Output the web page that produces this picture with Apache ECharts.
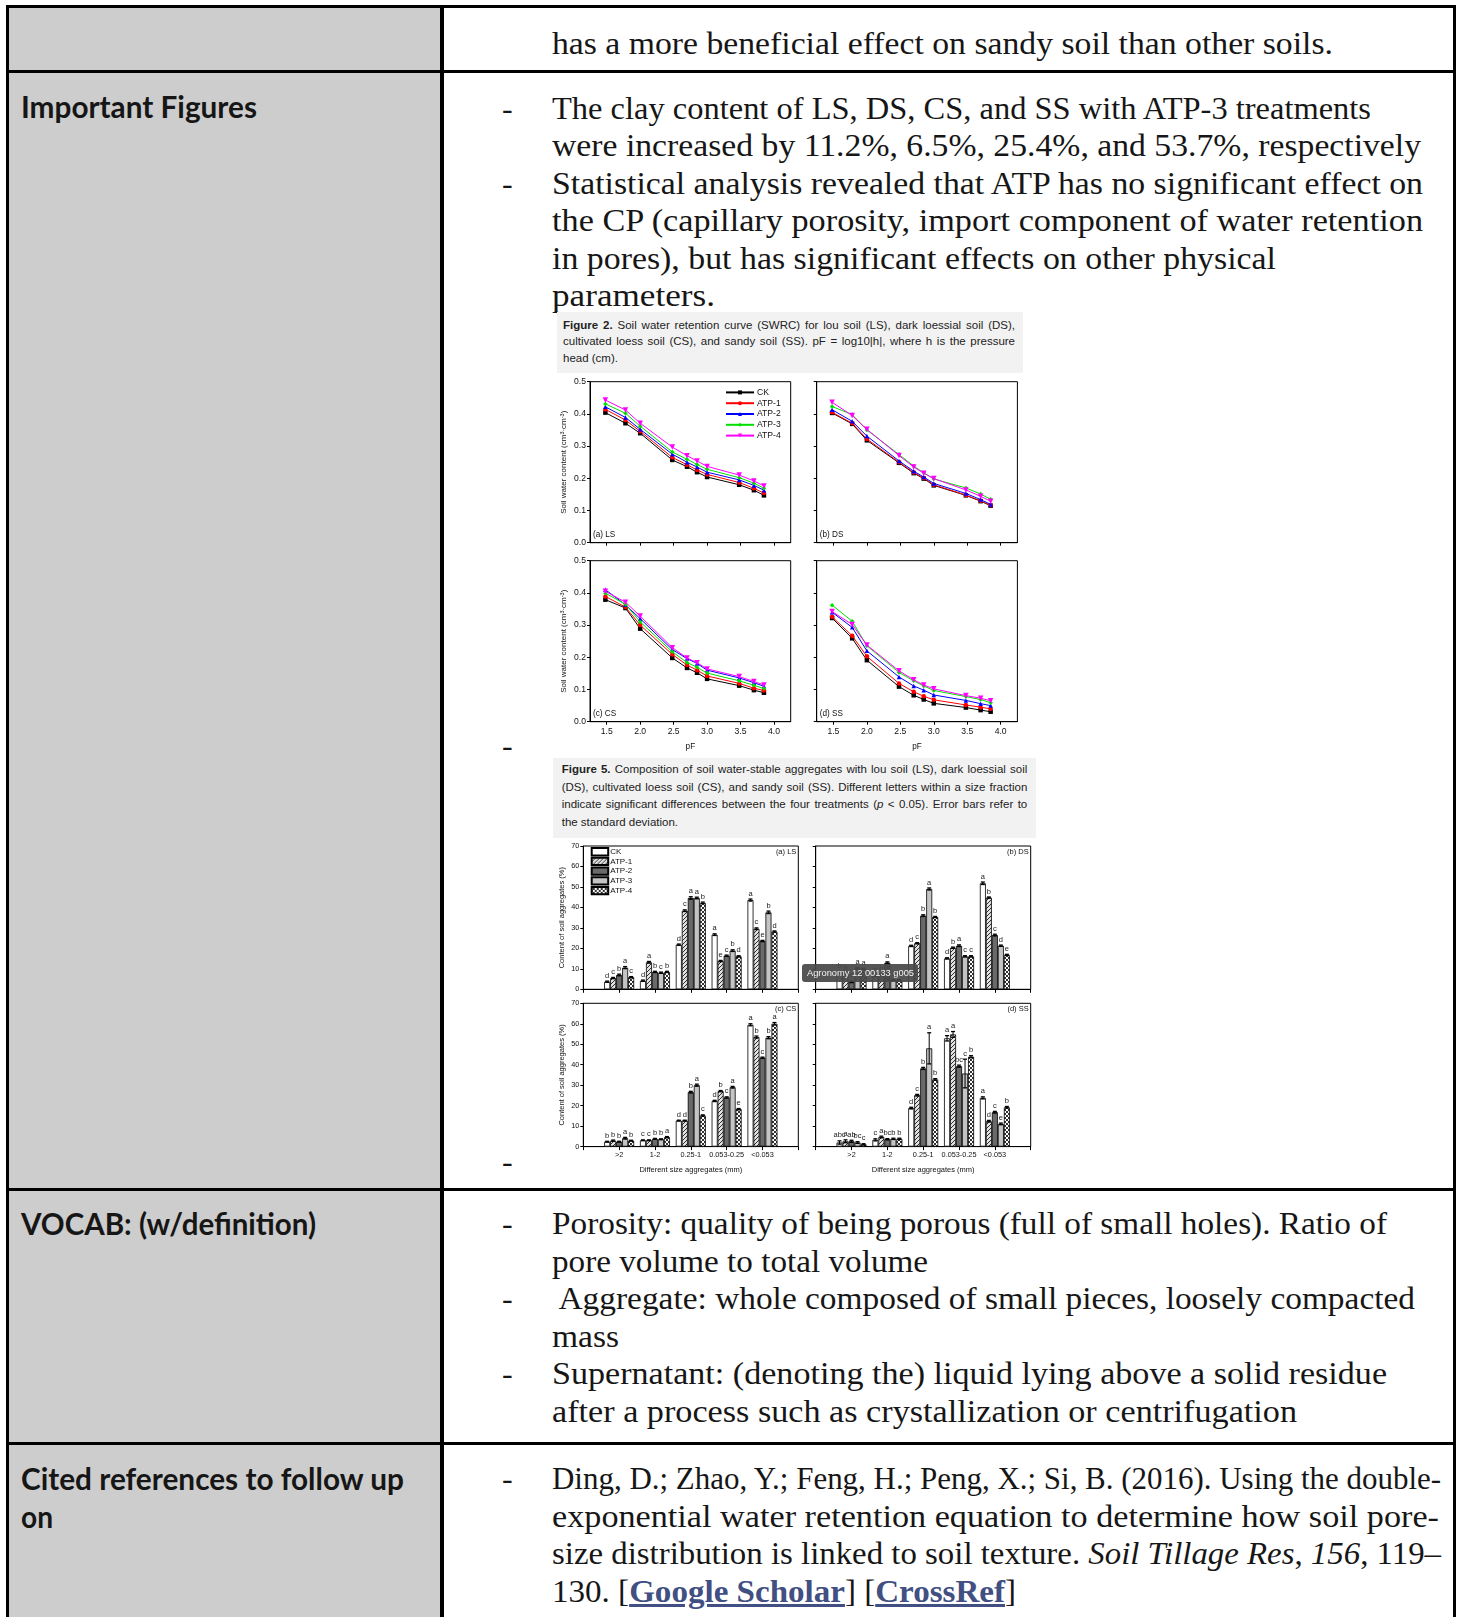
<!DOCTYPE html>
<html>
<head>
<meta charset="utf-8">
<title>Reading notes – ATP and soil physical properties</title>
<script src="https://cdn.jsdelivr.net/npm/echarts@6/dist/echarts.min.js"></script>
<style>
  html, body { margin: 0; padding: 0; background: #fff; }
  body { width: 1459px; height: 1617px; position: relative; overflow: hidden; }
  .gray { position: absolute; background: #cdcdcd; }
  .rule { position: absolute; background: #000; }
  .txt { position: absolute; font-family: "Liberation Serif", serif; font-size: 32px; line-height: 37.5px; color: #161616; white-space: pre; transform-origin: 0 50%; }
  .lbl { position: absolute; font-family: Lato, "Open Sans", sans-serif; font-weight: 700; font-size: 30px; line-height: 37.5px; color: #161616; white-space: pre; transform-origin: 0 50%; }
  .capbox { position: absolute; background: #f2f2f2; }
  .cap { position: absolute; font-family: "Liberation Sans", Arial, sans-serif; font-size: 11.5px; color: #222; white-space: nowrap; }
  .cap div { text-align: justify; text-align-last: justify; }
  .cap div.end { text-align-last: left; }
  a { color: #414f82; font-weight: 700; text-decoration: underline; }
  #swrc { position: absolute; left: 545px; top: 372px; width: 490px; height: 385px; }
  #agg { position: absolute; left: 545px; top: 838px; width: 495px; height: 342px; }
</style>
</head>
<body>

<!-- table frame -->
<div class="gray" style="left:9px;top:8px;width:431px;height:1609px;"></div>
<div class="rule" style="left:6px;top:5px;width:1450px;height:3px;"></div>
<div class="rule" style="left:6px;top:5px;width:3px;height:1612px;"></div>
<div class="rule" style="left:1453px;top:5px;width:3px;height:1612px;"></div>
<div class="rule" style="left:440px;top:5px;width:3.5px;height:1612px;"></div>
<div class="rule" style="left:6px;top:70px;width:1450px;height:3px;"></div>
<div class="rule" style="left:6px;top:1188px;width:1450px;height:3px;"></div>
<div class="rule" style="left:6px;top:1442px;width:1450px;height:3px;"></div>

<!-- row: conclusion tail -->
<div class="txt" data-w="781" style="left:552px;top:25px;">has a more beneficial effect on sandy soil than other soils.</div>

<!-- row: important figures -->
<div class="lbl" data-w="236" style="left:21px;top:88px;">Important Figures</div>
<div class="txt" style="left:502px;top:89.5px;">-</div>
<div class="txt" style="left:502px;top:164.5px;">-</div>
<div class="txt" data-w="819" style="left:552px;top:89.5px;">The clay content of LS, DS, CS, and SS with ATP-3 treatments</div>
<div class="txt" data-w="869" style="left:552px;top:127px;">were increased by 11.2%, 6.5%, 25.4%, and 53.7%, respectively</div>
<div class="txt" data-w="871" style="left:552px;top:164.5px;">Statistical analysis revealed that ATP has no significant effect on</div>
<div class="txt" data-w="871" style="left:552px;top:202px;">the CP (capillary porosity, import component of water retention</div>
<div class="txt" data-w="724" style="left:552px;top:239.5px;">in pores), but has significant effects on other physical</div>
<div class="txt" data-w="163" style="left:552px;top:277px;">parameters.</div>

<div class="capbox" style="left:557px;top:312px;width:466px;height:61px;"></div>
<div class="cap" style="left:563px;top:316.6px;width:452px;line-height:16.7px;">
  <div><b>Figure 2.</b> Soil water retention curve (SWRC) for lou soil (LS), dark loessial soil (DS),</div>
  <div>cultivated loess soil (CS), and sandy soil (SS). pF = log10|h|, where h is the pressure</div>
  <div class="end">head (cm).</div>
</div>
<div class="txt" style="left:502px;top:727px;">-</div>

<div class="capbox" style="left:553px;top:758px;width:483px;height:80px;"></div>
<div class="cap" style="left:561.7px;top:761.2px;width:465.6px;line-height:17.6px;">
  <div><b>Figure 5.</b> Composition of soil water-stable aggregates with lou soil (LS), dark loessial soil</div>
  <div>(DS), cultivated loess soil (CS), and sandy soil (SS). Different letters within a size fraction</div>
  <div>indicate significant differences between the four treatments (<i>p</i> &lt; 0.05). Error bars refer to</div>
  <div class="end">the standard deviation.</div>
</div>
<div class="txt" style="left:502px;top:1143px;">-</div>

<div id="swrc"></div>
<div id="agg"></div>

<!-- row: vocabulary -->
<div class="lbl" data-w="295" style="left:21px;top:1205px;">VOCAB: (w/definition)</div>
<div class="txt" style="left:502px;top:1205px;">-</div>
<div class="txt" style="left:502px;top:1280px;">-</div>
<div class="txt" style="left:502px;top:1355px;">-</div>
<div class="txt" data-w="835" style="left:552px;top:1205px;">Porosity: quality of being porous (full of small holes). Ratio of</div>
<div class="txt" data-w="376" style="left:552px;top:1242.5px;">pore volume to total volume</div>
<div class="txt" data-w="863" style="left:552px;top:1280px;"> Aggregate: whole composed of small pieces, loosely compacted</div>
<div class="txt" data-w="67" style="left:552px;top:1317.5px;">mass</div>
<div class="txt" data-w="835" style="left:552px;top:1355px;">Supernatant: (denoting the) liquid lying above a solid residue</div>
<div class="txt" data-w="745" style="left:552px;top:1392.5px;">after a process such as crystallization or centrifugation</div>

<!-- row: references -->
<div class="lbl" data-w="383" style="left:21px;top:1460px;">Cited references to follow up</div>
<div class="lbl" data-w="32" style="left:21px;top:1497.5px;">on</div>
<div class="txt" style="left:502px;top:1460px;">-</div>
<div class="txt" data-w="889" style="left:552px;top:1460px;">Ding, D.; Zhao, Y.; Feng, H.; Peng, X.; Si, B. (2016). Using the double-</div>
<div class="txt" data-w="887" style="left:552px;top:1497.5px;">exponential water retention equation to determine how soil pore-</div>
<div class="txt" data-w="889" style="left:552px;top:1535px;">size distribution is linked to soil texture. <i>Soil Tillage Res</i>, <i>156</i>, 119–</div>
<div class="txt" data-w="464" style="left:552px;top:1572.5px;">130. [<a>Google Scholar</a>] [<a>CrossRef</a>]</div>

<script>
// Stretch each typeset line to its column measure.
document.querySelectorAll('[data-w]').forEach(el => {
  const target = parseFloat(el.dataset.w);
  const natural = el.getBoundingClientRect().width;
  if (natural > 0) el.style.transform = 'scaleX(' + (target / natural).toFixed(4) + ')';
});

// ---------- Soil water retention (Figure 2) ----------
const treatments = ['CK', 'ATP-1', 'ATP-2', 'ATP-3', 'ATP-4'];
const pF = [1.48, 1.78, 2.00, 2.48, 2.70, 2.85, 3.00, 3.48, 3.70, 3.85];
const pFTicks = [1.5, 2.0, 2.5, 3.0, 3.5, 4.0];
const swcTicks = [0, 0.1, 0.2, 0.3, 0.4, 0.5];

// rows: CK, ATP-1, ATP-2, ATP-3, ATP-4 (cm3 cm-3)
const swcLS = [
  [0.404, 0.371, 0.340, 0.257, 0.236, 0.219, 0.204, 0.180, 0.163, 0.147],
  [0.414, 0.381, 0.346, 0.265, 0.242, 0.226, 0.212, 0.187, 0.169, 0.154],
  [0.422, 0.389, 0.352, 0.275, 0.250, 0.235, 0.219, 0.195, 0.178, 0.163],
  [0.431, 0.402, 0.362, 0.282, 0.259, 0.243, 0.228, 0.202, 0.185, 0.169],
  [0.443, 0.412, 0.371, 0.297, 0.270, 0.254, 0.237, 0.210, 0.192, 0.176]
];
const swcDS = [
  [0.403, 0.369, 0.318, 0.248, 0.216, 0.199, 0.178, 0.147, 0.129, 0.115],
  [0.405, 0.371, 0.322, 0.250, 0.218, 0.201, 0.180, 0.148, 0.130, 0.116],
  [0.413, 0.377, 0.331, 0.254, 0.222, 0.204, 0.184, 0.153, 0.134, 0.119],
  [0.423, 0.398, 0.350, 0.274, 0.238, 0.217, 0.198, 0.170, 0.151, 0.135],
  [0.436, 0.395, 0.352, 0.271, 0.235, 0.216, 0.199, 0.164, 0.144, 0.129]
];
const swcCS = [
  [0.379, 0.353, 0.289, 0.198, 0.167, 0.152, 0.133, 0.112, 0.098, 0.090],
  [0.389, 0.356, 0.300, 0.209, 0.176, 0.160, 0.142, 0.119, 0.104, 0.097],
  [0.410, 0.363, 0.320, 0.224, 0.196, 0.181, 0.160, 0.136, 0.121, 0.110],
  [0.399, 0.365, 0.310, 0.217, 0.184, 0.169, 0.151, 0.127, 0.113, 0.103],
  [0.405, 0.371, 0.328, 0.230, 0.198, 0.183, 0.164, 0.140, 0.125, 0.114]
];
const swcSS = [
  [0.322, 0.259, 0.191, 0.109, 0.082, 0.069, 0.057, 0.044, 0.036, 0.031],
  [0.326, 0.267, 0.203, 0.119, 0.093, 0.079, 0.068, 0.052, 0.045, 0.040],
  [0.340, 0.293, 0.220, 0.139, 0.111, 0.098, 0.083, 0.066, 0.056, 0.050],
  [0.362, 0.312, 0.236, 0.153, 0.127, 0.111, 0.097, 0.078, 0.069, 0.059],
  [0.342, 0.302, 0.238, 0.158, 0.130, 0.114, 0.102, 0.081, 0.073, 0.065]
];

// ---------- Water-stable aggregates (Figure 5) ----------
const sizeClasses = ['>2', '1-2', '0.25-1', '0.053-0.25', '<0.053'];
const aggTicks = [0, 10, 20, 30, 40, 50, 60, 70];

// rows: CK, ATP-1, ATP-2, ATP-3, ATP-4 (%), columns follow sizeClasses
const aggLS = [
  [3.7, 4.2, 21.8, 26.7, 43.6],
  [5.5, 13.2, 38.4, 13.8, 29.6],
  [7.0, 8.5, 44.6, 16.4, 23.6],
  [10.6, 8.1, 44.6, 18.9, 37.6],
  [5.9, 8.5, 42.2, 16.1, 28.2]
];
const sdLS = [
  [0.3, 0.3, 0.3, 0.4, 0.5],
  [0.3, 0.4, 0.4, 0.3, 0.4],
  [0.4, 0.3, 0.6, 0.3, 0.3],
  [0.5, 0.3, 0.4, 0.4, 0.6],
  [0.3, 0.3, 0.4, 0.3, 0.3]
];
const lettersLS = [
  ['d', 'd', 'd', 'a', 'a'],
  ['c', 'a', 'c', 'e', 'c'],
  ['b', 'b', 'a', 'c', 'e'],
  ['a', 'c', 'a', 'b', 'b'],
  ['c', 'b', 'b', 'd', 'd']
];

const aggDS = [
  [8.5, 6.5, 21.2, 15.1, 51.8],
  [7.5, 7.0, 22.5, 20.3, 44.8],
  [3.7, 13.0, 36.0, 21.3, 26.5],
  [10.2, 4.5, 49.0, 16.1, 21.3],
  [10.0, 4.5, 35.3, 16.1, 16.8]
];
const sdDS = [
  [0.3, 0.3, 0.3, 0.3, 0.6],
  [0.3, 0.3, 0.3, 0.3, 0.3],
  [0.4, 0.4, 0.4, 0.4, 0.4],
  [0.3, 0.3, 0.5, 0.3, 0.3],
  [0.3, 0.3, 0.3, 0.3, 0.3]
];
const lettersDS = [
  ['b', 'b', 'd', 'd', 'a'],
  ['b', 'b', 'c', 'b', 'b'],
  ['c', 'a', 'b', 'a', 'c'],
  ['a', 'c', 'a', 'c', 'd'],
  ['a', 'c', 'b', 'c', 'e']
];

const aggCS = [
  [2.4, 3.1, 12.7, 22.3, 59.5],
  [2.9, 3.1, 12.7, 27.1, 53.5],
  [2.4, 3.8, 26.6, 24.0, 43.4],
  [4.1, 3.6, 30.0, 29.0, 53.2],
  [2.9, 4.6, 15.2, 18.3, 60.0]
];
const sdCS = [
  [0.2, 0.2, 0.2, 0.3, 0.5],
  [0.3, 0.2, 0.2, 0.3, 0.5],
  [0.2, 0.2, 0.4, 0.3, 0.3],
  [0.4, 0.2, 0.5, 0.4, 0.5],
  [0.2, 0.3, 0.3, 0.3, 0.6]
];
const lettersCS = [
  ['b', 'c', 'd', 'd', 'a'],
  ['b', 'c', 'd', 'b', 'b'],
  ['b', 'b', 'b', 'c', 'c'],
  ['a', 'b', 'a', 'a', 'b'],
  ['b', 'a', 'c', 'e', 'a']
];

const aggSS = [
  [2.0, 3.3, 18.8, 52.9, 23.8],
  [2.6, 4.7, 25.1, 54.8, 12.4],
  [2.6, 3.6, 38.2, 39.3, 16.8],
  [2.0, 3.8, 48.0, 35.7, 11.1],
  [1.1, 3.8, 32.8, 43.9, 19.2]
];
const sdSS = [
  [0.8, 0.5, 0.4, 1.3, 0.5],
  [0.7, 0.4, 0.4, 1.4, 0.4],
  [0.5, 0.3, 0.5, 0.5, 0.4],
  [0.4, 0.3, 7.6, 7.0, 0.4],
  [0.3, 0.3, 0.4, 0.5, 0.4]
];
const lettersSS = [
  ['abc', 'c', 'd', 'a', 'a'],
  ['a', 'a', 'c', 'a', 'd'],
  ['ab', 'bc', 'b', 'bc', 'c'],
  ['bc', 'b', 'a', 'c', 'e'],
  ['c', 'b', 'b', 'b', 'b']
];

// ---------- shared styling ----------
const FONT = '"Liberation Sans", Arial, sans-serif';
const INK = '#111';

// ========== Figure 2: four SWRC panels ==========
(function () {
  const chart = echarts.init(document.getElementById('swrc'), null, { renderer: 'canvas' });
  const soils = [swcLS, swcDS, swcCS, swcSS];
  const panelNames = ['(a) LS', '(b) DS', '(c) CS', '(d) SS'];
  const colors = ['#000000', '#ff0000', '#0000ff', '#00e000', '#ff00ff'];
  const symbols = ['rect', 'circle', 'triangle', 'diamond', 'path://M0,0L10,0L5,9Z'];
  const boxes = [
    { left: 45, top: 9.7 }, { left: 271.7, top: 9.7 },
    { left: 45, top: 188.7 }, { left: 271.7, top: 188.7 }
  ];
  const grid = boxes.map(b => ({
    left: b.left, top: b.top, width: 200.7, height: 161,
    show: true, borderColor: '#000', borderWidth: 1, backgroundColor: 'transparent',
    outerBoundsMode: 'none', containLabel: false
  }));
  const xAxis = boxes.map((b, i) => ({
    type: 'value', gridIndex: i, min: 1.25, max: 4.25,
    axisLine: { show: true, onZero: false, lineStyle: { color: '#000', width: 1 } },
    axisTick: { show: true, inside: false, length: 3, customValues: pFTicks, lineStyle: { color: '#000', width: 1 } },
    axisLabel: { show: i >= 2, customValues: pFTicks, formatter: v => v.toFixed(1), fontSize: 8.6, color: INK, fontFamily: FONT, margin: 5 },
    splitLine: { show: false },
    name: i >= 2 ? 'pF' : '', nameLocation: 'middle', nameGap: 21,
    nameTextStyle: { fontSize: 8.2, color: INK, fontFamily: FONT }
  }));
  const yAxis = boxes.map((b, i) => ({
    type: 'value', gridIndex: i, min: 0, max: 0.5, interval: 0.1,
    axisLine: { show: true, onZero: false, lineStyle: { color: '#000', width: 1 } },
    axisTick: { show: true, inside: false, length: 3, lineStyle: { color: '#000', width: 1 } },
    axisLabel: { show: i % 2 === 0, customValues: swcTicks, formatter: v => v.toFixed(1), fontSize: 8.6, color: INK, fontFamily: FONT, margin: 4 },
    splitLine: { show: false },
    name: i % 2 === 0 ? 'Soil water content (cm{sup|3}·cm{sup|-3})' : '',
    nameLocation: 'middle', nameRotate: 90, nameGap: 21,
    nameTextStyle: { fontSize: 8, color: INK, fontFamily: FONT, rich: { sup: { fontSize: 5.5, verticalAlign: 'top', color: INK, fontFamily: FONT, padding: [0, 0, 4, 0] } } }
  }));
  const series = [];
  soils.forEach((soil, i) => {
    soil.forEach((vals, k) => {
      series.push({
        type: 'line', name: treatments[k], xAxisIndex: i, yAxisIndex: i,
        data: pF.map((x, j) => [x, vals[j]]),
        symbol: symbols[k], symbolSize: k === 4 ? 5.5 : 4.5, showSymbol: true,
        lineStyle: { color: colors[k], width: 1 },
        itemStyle: { color: colors[k] },
        animation: false, silent: true, z: 2 + k
      });
    });
  });
  const graphic = boxes.map((b, i) => ({
    type: 'text', left: b.left + 3, top: b.top + 149,
    style: { text: panelNames[i], fontSize: 8.2, fill: INK, fontFamily: FONT }
  }));
  chart.setOption({
    animation: false,
    grid, xAxis, yAxis, series, graphic,
    legend: {
      show: true, orient: 'vertical', left: 180, top: 15,
      data: treatments, itemWidth: 28, itemHeight: 5, itemGap: 0, padding: 0,
      textStyle: { fontSize: 8.6, lineHeight: 10.8, color: INK, fontFamily: FONT, padding: [0, 0, 0, -2] },
      selectedMode: false
    }
  });
})();

// ========== Figure 5: four aggregate panels ==========
(function () {
  const chart = echarts.init(document.getElementById('agg'), null, { renderer: 'canvas' });
  const BAR_W = 6;

  function pattern(kind) {
    const n = 4;
    const c = document.createElement('canvas');
    c.width = n; c.height = n;
    const g = c.getContext('2d');
    g.fillStyle = kind === 'hatch' ? '#e2e2e2' : '#ffffff';
    g.fillRect(0, 0, n, n);
    g.strokeStyle = '#1a1a1a';
    g.lineWidth = 0.9;
    g.beginPath();
    g.moveTo(-1, n + 1); g.lineTo(n + 1, -1);
    if (kind === 'cross') { g.moveTo(-1, -1); g.lineTo(n + 1, n + 1); }
    g.stroke();
    return c;
  }
  const fills = [
    '#ffffff',
    { image: pattern('hatch'), repeat: 'repeat' },
    '#6a6a6a',
    '#c4c4c4',
    { image: pattern('cross'), repeat: 'repeat' }
  ];

  const soils = [aggLS, aggDS, aggCS, aggSS];
  const sds = [sdLS, sdDS, sdCS, sdSS];
  const letters = [lettersLS, lettersDS, lettersCS, lettersSS];
  const panelNames = ['(a) LS', '(b) DS', '(c) CS', '(d) SS'];
  const cats = [''].concat(sizeClasses, ['']);
  const boxes = [
    { left: 38.3, top: 8 }, { left: 270.7, top: 8 },
    { left: 38.3, top: 165.3 }, { left: 270.7, top: 165.3 }
  ];
  const GW = 215, GH = 143.3;
  const grid = boxes.map(b => ({
    left: b.left, top: b.top, width: GW, height: GH,
    show: true, borderColor: '#000', borderWidth: 1, backgroundColor: 'transparent',
    outerBoundsMode: 'none', containLabel: false
  }));
  const xAxis = boxes.map((b, i) => ({
    type: 'category', gridIndex: i, data: cats, boundaryGap: false,
    axisLine: { show: true, onZero: false, lineStyle: { color: '#000', width: 1 } },
    axisTick: { show: true, inside: false, length: 3.5, interval: 0, lineStyle: { color: '#000', width: 1 } },
    axisLabel: { show: i >= 2, interval: 0, fontSize: 7.3, color: INK, fontFamily: FONT, margin: 5 },
    splitLine: { show: false },
    name: i >= 2 ? 'Different size aggregates (mm)' : '', nameLocation: 'middle', nameGap: 19,
    nameTextStyle: { fontSize: 7.5, color: INK, fontFamily: FONT }
  }));
  const yAxis = boxes.map((b, i) => ({
    type: 'value', gridIndex: i, min: 0, max: 70, interval: 10,
    axisLine: { show: true, onZero: false, lineStyle: { color: '#000', width: 1 } },
    axisTick: { show: true, inside: false, length: 3, lineStyle: { color: '#000', width: 1 } },
    axisLabel: { show: i % 2 === 0, customValues: aggTicks, fontSize: 7.3, color: INK, fontFamily: FONT, margin: 4 },
    splitLine: { show: false },
    name: i % 2 === 0 ? 'Content of soil aggregates (%)' : '',
    nameLocation: 'middle', nameRotate: 90, nameGap: 17,
    nameTextStyle: { fontSize: 7.5, color: INK, fontFamily: FONT }
  }));

  const series = [];
  soils.forEach((soil, i) => {
    soil.forEach((vals, k) => {
      series.push({
        type: 'bar', name: treatments[k], xAxisIndex: i, yAxisIndex: i,
        data: ['-'].concat(vals, ['-']),
        barWidth: BAR_W, barGap: '0%',
        itemStyle: { color: fills[k], borderColor: '#000', borderWidth: 0.8 },
        animation: false, silent: true, z: 2
      });
    });
    // error bars and significance letters drawn on top of each bar
    const items = [];
    soil.forEach((vals, k) => {
      vals.forEach((v, c) => {
        items.push({ value: [c + 1, k, v, sds[i][k][c]], letter: letters[i][k][c] });
      });
    });
    series.push({
      type: 'custom', name: 'sd', xAxisIndex: i, yAxisIndex: i,
      encode: { x: 0, y: 2 },
      data: items.map(it => it.value),
      clip: false, silent: true, z: 5, animation: false,
      renderItem: function (params, api) {
        const cat = api.value(0), k = api.value(1), m = api.value(2), s = api.value(3);
        const top = api.coord([cat, m + s]);
        const bot = api.coord([cat, m - s]);
        const x = top[0] + (k - 2) * BAR_W;
        const hw = 2;
        return {
          type: 'group',
          children: [
            { type: 'line', shape: { x1: x, y1: top[1], x2: x, y2: bot[1] }, style: { stroke: '#000', lineWidth: 1 } },
            { type: 'line', shape: { x1: x - hw, y1: top[1], x2: x + hw, y2: top[1] }, style: { stroke: '#000', lineWidth: 1.3 } },
            { type: 'line', shape: { x1: x - hw, y1: bot[1], x2: x + hw, y2: bot[1] }, style: { stroke: '#000', lineWidth: 1.3 } },
            {
              type: 'text', x: x, y: top[1] - 1.5,
              style: { text: items[params.dataIndex].letter, fill: '#1a1a1a', fontSize: 7.5, fontFamily: FONT, align: 'center', verticalAlign: 'bottom' }
            }
          ]
        };
      }
    });
  });

  const graphic = boxes.map((b, i) => ({
    type: 'text', right: 495 - (b.left + GW) + 2, top: b.top + 2,
    style: { text: panelNames[i], fontSize: 7.5, fill: INK, fontFamily: FONT }
  }));
  // image-name pop-up label over the DS panel
  graphic.push({
    type: 'rect', left: 257, top: 126, z: 100,
    shape: { width: 116, height: 18, r: 3 },
    style: { fill: 'rgba(72,72,72,0.93)' }
  });
  graphic.push({
    type: 'text', left: 262, top: 130.5, z: 101,
    style: { text: 'Agronomy 12 00133 g005', fill: '#f4f4f4', fontSize: 9.3, fontFamily: FONT }
  });

  chart.setOption({
    animation: false,
    grid, xAxis, yAxis, series, graphic,
    legend: {
      show: true, orient: 'vertical', left: 45.7, top: 8.9,
      data: treatments, icon: 'rect', itemWidth: 16.5, itemHeight: 7.3, itemGap: 0, padding: 0,
      textStyle: { fontSize: 8, lineHeight: 9.7, color: INK, fontFamily: FONT, padding: [0, 0, 0, -3] },
      selectedMode: false
    }
  });
})();
</script>
</body>
</html>
